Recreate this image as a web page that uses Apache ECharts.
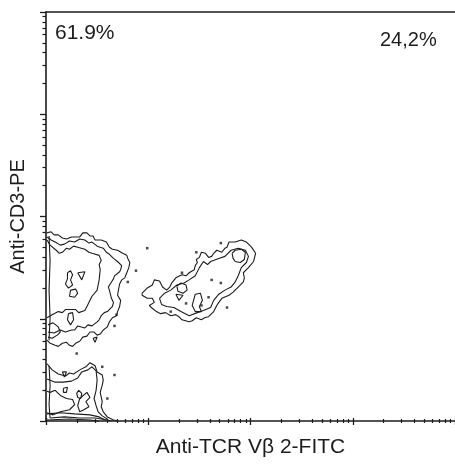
<!DOCTYPE html>
<html>
<head>
<meta charset="utf-8">
<script src="https://cdn.jsdelivr.net/npm/echarts@6/dist/echarts.min.js"></script>
<style>html,body{margin:0;padding:0;background:#fff}#c{width:455px;height:464px}</style>
</head>
<body>
<div id="c"></div>
<script>
// axis range in decades (log10 of fluorescence), 10^0 .. 10^4
const decades = [0, 1, 2, 3, 4];
const minorMultipliers = [2, 3, 4, 5, 6, 7, 8, 9];
const xTitle = 'Anti-TCR Vβ 2-FITC';
const yTitle = 'Anti-CD3-PE';
const quadLabels = ['61.9%', '24,2%'];

// contour lines, [log10 x, log10 y]
// CD3+ Vβ2- population (upper left)
const ulOuter = [[.01,1.84],[.05,1.85],[.08,1.82],[.12,1.82],[.16,1.79],[.20,1.78],[.25,1.80],[.33,1.80],[.36,1.84],[.40,1.84],[.43,1.81],[.46,1.81],[.48,1.77],[.54,1.77],[.59,1.75],[.62,1.70],[.65,1.68],[.70,1.67],[.75,1.64],[.79,1.62],[.80,1.59],[.82,1.55],[.81,1.50],[.79,1.45],[.77,1.40],[.74,1.38],[.72,1.34],[.71,1.29],[.70,1.23],[.73,1.18],[.72,1.12],[.70,1.07],[.69,1.03],[.65,1.01],[.62,.97],[.60,.92],[.56,.89],[.53,.85],[.50,.84],[.47,.87],[.43,.87],[.40,.83],[.36,.82],[.33,.78],[.29,.76],[.26,.73],[.23,.74],[.20,.77],[.16,.76],[.12,.73],[.09,.74],[.04,.76],[.01,.79]];
const ulMid = [[.01,1.80],[.05,1.77],[.09,1.75],[.14,1.72],[.18,1.73],[.23,1.76],[.28,1.75],[.33,1.78],[.38,1.77],[.42,1.74],[.45,1.75],[.50,1.71],[.56,1.69],[.59,1.65],[.62,1.63],[.66,1.59],[.70,1.56],[.74,1.52],[.73,1.48],[.72,1.46],[.67,1.42],[.66,1.39],[.64,1.36],[.61,1.31],[.62,1.28],[.64,1.20],[.66,1.16],[.65,1.12],[.60,1.07],[.57,1.06],[.54,1.03],[.52,.99],[.50,.97],[.45,.93],[.41,.94],[.38,.91],[.31,.93],[.28,.89],[.25,.89],[.19,.87],[.14,.89],[.08,.86],[.02,.87]];
const ulInner = [[.01,1.77],[.04,1.72],[.10,1.67],[.13,1.64],[.16,1.65],[.20,1.69],[.23,1.68],[.27,1.71],[.31,1.70],[.38,1.68],[.42,1.65],[.45,1.64],[.52,1.62],[.54,1.57],[.52,1.53],[.53,1.48],[.52,1.38],[.51,1.33],[.50,1.28],[.45,1.22],[.43,1.18],[.41,1.14],[.38,1.08],[.32,1.06],[.29,1.09],[.26,1.09],[.19,1.09],[.16,1.06],[.12,1.07],[.06,1.04],[.01,1.01]];
const ulIsland1 = [[.21,1.45],[.24,1.47],[.26,1.43],[.24,1.38],[.26,1.33],[.22,1.30],[.19,1.34],[.21,1.39],[.21,1.45]];
const ulIsland2 = [[.31,1.45],[.38,1.46],[.35,1.38],[.31,1.45]];
const ulIsland3 = [[.24,1.28],[.29,1.29],[.31,1.25],[.28,1.21],[.23,1.22],[.24,1.28]];
const ulIsland4 = [[.22,1.05],[.26,1.06],[.27,.99],[.24,.94],[.21,.99],[.22,1.05]];
const ulIsland5 = [[.46,.81],[.50,.82],[.48,.77],[.46,.81]];
const ulRing = [[.02,.94],[.07,.96],[.12,.92],[.14,.87],[.11,.84],[.06,.81],[.02,.82]];
const ulEdge = [[.03,1.81],[.04,1.57],[.03,1.28],[.04,1.01],[.03,.79]];

// CD3- population (lower left)
const llOuter = [[.01,.56],[.06,.50],[.12,.46],[.19,.44],[.23,.47],[.27,.46],[.33,.50],[.39,.53],[.43,.57],[.48,.54],[.50,.48],[.55,.45],[.56,.40],[.55,.35],[.53,.28],[.55,.19],[.54,.14],[.56,.09],[.60,.04],[.66,.01],[.70,0]];
const llMid = [[.01,.41],[.09,.38],[.17,.38],[.25,.39],[.31,.42],[.35,.48],[.41,.50],[.45,.53],[.49,.49],[.50,.40],[.49,.30],[.47,.22],[.49,.15],[.51,.09],[.55,.05],[.60,.02]];
const llInner = [[.01,.29],[.04,.28],[.09,.30],[.14,.25],[.20,.22],[.26,.21],[.28,.16],[.23,.11],[.14,.09],[.07,.06],[.01,.08]];
const llIsland1 = [[.33,.22],[.40,.28],[.43,.23],[.39,.19],[.42,.14],[.37,.11],[.33,.09],[.31,.15],[.33,.22]];
const llIsland2 = [[.17,.32],[.21,.33],[.20,.28],[.17,.28],[.17,.32]];
const llIsland3 = [[.32,.30],[.35,.27],[.34,.22],[.31,.23],[.30,.27],[.32,.30]];
const llIsland4 = [[.16,.48],[.20,.48],[.18,.43],[.16,.48]];
const llBase1 = [[.01,.07],[.14,.08],[.28,.07],[.43,.06],[.52,.04],[.58,.01]];
const llBase2 = [[.04,.03],[.18,.04],[.33,.03],[.48,.03],[.60,.01],[.64,0]];
const llBase3 = [[.01,.01],[.23,.02],[.43,.01],[.52,0]];
const llEdge = [[.03,.54],[.04,.35],[.03,.16],[.04,.03]];

// CD3+ Vβ2+ population (right)
const rcOuter = [[.94,1.25],[.99,1.30],[1.04,1.33],[1.06,1.38],[1.11,1.37],[1.14,1.31],[1.18,1.28],[1.21,1.31],[1.23,1.35],[1.27,1.40],[1.33,1.43],[1.37,1.42],[1.40,1.45],[1.45,1.48],[1.46,1.52],[1.48,1.55],[1.47,1.58],[1.50,1.60],[1.52,1.65],[1.56,1.64],[1.59,1.60],[1.62,1.61],[1.64,1.64],[1.67,1.67],[1.72,1.65],[1.75,1.69],[1.77,1.70],[1.79,1.75],[1.85,1.75],[1.91,1.77],[1.96,1.75],[2.01,1.70],[2.05,1.64],[2.04,1.60],[2.03,1.56],[1.98,1.50],[1.96,1.48],[1.93,1.45],[1.94,1.40],[1.93,1.36],[1.88,1.31],[1.83,1.26],[1.79,1.23],[1.72,1.20],[1.69,1.16],[1.67,1.13],[1.64,1.07],[1.59,1.02],[1.55,1.01],[1.52,.99],[1.47,1.01],[1.43,.98],[1.40,.97],[1.33,.99],[1.30,1.02],[1.27,1.04],[1.22,1.03],[1.17,1.06],[1.12,1.05],[1.08,1.07],[1.03,1.11],[1.01,1.13],[1.06,1.16],[1.04,1.20],[.99,1.20],[.94,1.23],[.94,1.25]];
const rcMid = [[1.11,1.20],[1.16,1.25],[1.22,1.28],[1.28,1.33],[1.35,1.35],[1.40,1.38],[1.46,1.42],[1.50,1.50],[1.54,1.56],[1.58,1.53],[1.61,1.56],[1.69,1.59],[1.75,1.61],[1.81,1.67],[1.88,1.69],[1.95,1.67],[1.98,1.61],[1.96,1.55],[1.91,1.50],[1.88,1.42],[1.85,1.36],[1.81,1.31],[1.75,1.28],[1.69,1.24],[1.64,1.18],[1.61,1.11],[1.54,1.08],[1.48,1.06],[1.40,1.03],[1.32,1.07],[1.25,1.11],[1.18,1.12],[1.13,1.14],[1.11,1.20]];
const rcHead = [[1.82,1.64],[1.85,1.67],[1.91,1.68],[1.95,1.65],[1.94,1.58],[1.90,1.55],[1.85,1.56],[1.83,1.59],[1.82,1.64]];
const rcIsland1 = [[1.28,1.32],[1.32,1.35],[1.37,1.33],[1.38,1.28],[1.34,1.25],[1.29,1.27],[1.28,1.32]];
const rcIsland2 = [[1.27,1.24],[1.34,1.23],[1.30,1.18],[1.27,1.24]];
const rcIsland3 = [[1.46,1.24],[1.51,1.25],[1.53,1.18],[1.50,1.12],[1.52,1.07],[1.46,1.07],[1.43,1.13],[1.46,1.24]];

// isolated contour specks
const specks = [[.88,1.47],[.80,1.36],[.69,1.04],[.67,.93],[.30,.66],[.67,.45],[.55,.53],[.60,.22],[.99,1.69],[1.47,1.65],[1.71,1.74],[1.33,1.45],[1.62,1.38],[1.71,1.35],[1.59,1.21],[1.77,1.11],[1.22,1.07],[1.37,1.15],[1.52,1.13]];

const contours = [ulOuter, ulMid, ulInner, ulIsland1, ulIsland2, ulIsland3, ulIsland4, ulIsland5, ulRing, ulEdge,
  llOuter, llMid, llInner, llIsland1, llIsland2, llIsland3, llIsland4, llBase1, llBase2, llBase3, llEdge,
  rcOuter, rcMid, rcHead, rcIsland1, rcIsland2, rcIsland3];

const minorTicks = [];
for (let d = 0; d < 4; d++) minorMultipliers.forEach(m => minorTicks.push(d + Math.log10(m)));

const ink = '#1c1c1c';
const font = 'Liberation Sans, Arial, sans-serif';

const baseAxis = { type: 'value', min: 0, max: 4, splitLine: { show: false }, axisLabel: { show: false } };
const chart = echarts.init(document.getElementById('c'), null, { renderer: 'canvas' });
chart.setOption({
  animation: false,
  textStyle: { fontFamily: font },
  grid: { left: 46, top: 12, width: 412, height: 409 },
  xAxis: [
    Object.assign({}, baseAxis, { position: 'bottom', axisLine: { show: true, lineStyle: { color: ink, width: 1.6 } }, axisTick: { show: false },
      name: xTitle, nameLocation: 'middle', nameGap: 16, nameTextStyle: { fontSize: 21, color: ink, fontFamily: font } }),
    Object.assign({}, baseAxis, { position: 'bottom', offset: -3, axisLine: { show: false }, axisTick: { show: true, customValues: decades, length: 7, lineStyle: { color: ink, width: 1.3 } } }),
    Object.assign({}, baseAxis, { position: 'bottom', offset: -2, axisLine: { show: false }, axisTick: { show: true, customValues: minorTicks, length: 4, lineStyle: { color: ink, width: 1.2 } } }),
    Object.assign({}, baseAxis, { position: 'top', axisLine: { show: true, lineStyle: { color: ink, width: 1.6 } }, axisTick: { show: false } })
  ],
  yAxis: [
    Object.assign({}, baseAxis, { position: 'left', axisLine: { show: true, lineStyle: { color: ink, width: 1.6 } }, axisTick: { show: true, customValues: decades, length: 6, lineStyle: { color: ink, width: 1.3 } },
      name: yTitle, nameLocation: 'middle', nameGap: 18, nameTextStyle: { fontSize: 20, color: ink, fontFamily: font } }),
    Object.assign({}, baseAxis, { position: 'left', axisLine: { show: false }, axisTick: { show: true, customValues: minorTicks, length: 3.5, lineStyle: { color: ink, width: 1.2 } } })
  ],
  series: contours.map(c => ({
    type: 'line', data: c, showSymbol: false, symbol: 'none', silent: true, clip: true,
    lineStyle: { color: ink, width: 1.1 }
  })).concat([{
    type: 'scatter', data: specks, symbol: 'rect', symbolSize: [2.5, 2.5], silent: true,
    itemStyle: { color: ink }
  }]),
  graphic: [
    { type: 'text', left: 55, top: 23, style: { text: quadLabels[0], fontSize: 21, fill: ink, fontFamily: font } },
    { type: 'text', left: 380, top: 30, style: { text: quadLabels[1], fontSize: 20, fill: ink, fontFamily: font } }
  ]
});
</script>
</body>
</html>
